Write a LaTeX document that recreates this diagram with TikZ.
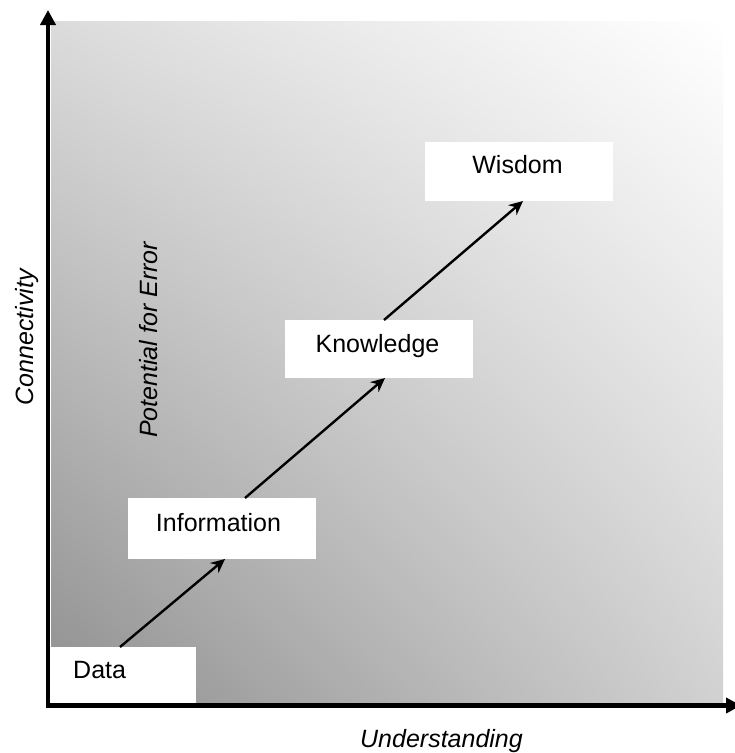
\documentclass[tikz,border=0pt]{standalone}
\usepackage{fontspec}
\setmainfont{Liberation Sans}
\usetikzlibrary{arrows.meta,shadings}
\definecolor{gLL}{gray}{0.56}
\definecolor{gUL}{gray}{0.86}
\definecolor{gLR}{gray}{0.82}
\definecolor{gUR}{gray}{1.0}
\tikzset{
  box/.style={fill=white, draw=none, inner sep=0pt, outer sep=0pt, minimum width=188pt},
  lbl/.style={inner sep=0pt, anchor=base, font=\fontsize{25}{30}\selectfont},
  axlbl/.style={lbl, font=\fontsize{25}{30}\selectfont\itshape},
  axisline/.style={line width=4.5pt, -{Triangle[width=15pt,length=15pt]}},
  stair/.style={line width=2.4pt, -{Stealth[length=14pt,width=13pt]}},
  stairshadow/.style={line width=1.2pt, draw=gray!70}
}
\begin{document}
\begin{tikzpicture}[x=1pt,y=-1pt]
\useasboundingbox (0,0) rectangle (735,753);
% background gradient
\shade[upper left=gUL, upper right=gUR, lower left=gLL, lower right=gLR] (51,21) rectangle (723,705);
% boxes
\node[box, minimum width=146pt, minimum height=56pt] (dataBox) at (123,675) {};
\node[box, minimum height=61pt] (infoBox) at (222,528.5) {};
\node[box, minimum height=58pt] (knowBox) at (379,349) {};
\node[box, minimum height=59pt] (wisBox) at (519,171.5) {};
% box texts
\node[lbl, anchor=base west] (dataTxt) at (73,678) {Data};
\node[lbl] (infoTxt) at (218.5,531.5) {Information};
\node[lbl] (knowTxt) at (377.5,352.5) {Knowledge};
\node[lbl] (wisTxt) at (517.5,173) {Wisdom};
% stair arrows
\draw[stair] ([xshift=70pt]dataBox.north west) -- ([xshift=97pt]infoBox.south west);
\draw[stair] ([xshift=117pt]infoBox.north west) -- ([xshift=100pt]knowBox.south west);
\draw[stair] ([xshift=99pt]knowBox.north west) -- ([xshift=98pt]wisBox.south west);
% axes
\coordinate (orig) at (48,705.5);
\coordinate (ytip) at (48,10);
\coordinate (xtip) at (741,705.5);
\draw[axisline] (orig) -- (ytip);
\draw[axisline] ([xshift=-2.25pt]orig) -- (xtip);
% axis labels
\node[axlbl] (xlab) at (441.5,747) {Understanding};
\node[axlbl, rotate=90] (ylab) at (33,337.5) {Connectivity};
\node[axlbl, rotate=90] (errlab) at (157,340) {Potential for Error};
\end{tikzpicture}
\end{document}
